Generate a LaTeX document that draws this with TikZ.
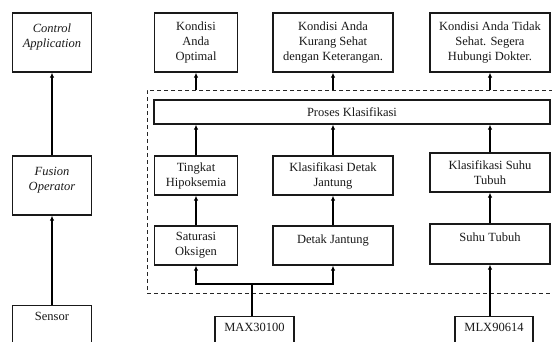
\documentclass[tikz,border=0pt]{standalone}
\usepackage{fontspec}
\setmainfont{Liberation Serif}
\usetikzlibrary{arrows.meta}
\begin{document}
\begin{tikzpicture}[x=1pt,y=-1pt,
  box/.style={draw=black!90, line width=1.3pt, align=center, inner sep=2pt,
    font=\fontsize{12.5}{15}\selectfont, text=black!90},
  ital/.style={font=\fontsize{12.5}{15}\selectfont\itshape},
  arr/.style={draw=black, line width=1.9pt, -{Latex[length=5pt,width=4.5pt]}},
  plain/.style={draw=black, line width=1.9pt},
  up/.style={text depth=13pt},
  cut/.style={anchor=north, minimum height=60pt, inner sep=0pt, text height=15pt, text depth=45pt},
  dashbox/.style={draw=black!85, dash pattern=on 4pt off 3pt, line width=0.9pt, inner sep=0pt}]
\useasboundingbox (0,0) rectangle (552,341);
\fill[white] (0,0) rectangle (552,341);

% left column
\node[box, ital, up, minimum width=79pt, minimum height=59pt] (ctrl) at (52,42.5) {Control\\Application};
\node[box, ital, up, minimum width=79pt, minimum height=59pt] (fusion) at (52,185.5) {Fusion\\Operator};
\node[box, cut, minimum width=79pt] (sensor) at (52,305) {Sensor};

% outputs
\node[box, minimum width=83pt, minimum height=59pt] (opt) at (196,42.5) {Kondisi\\Anda\\Optimal};
\node[box, minimum width=120pt, minimum height=59pt] (kurang) at (333,42.5) {Kondisi Anda\\Kurang Sehat\\dengan Keterangan.};
\node[box, minimum width=120pt, minimum height=59pt] (tidak) at (490,42.5) {Kondisi Anda Tidak\\Sehat. Segera\\Hubungi Dokter.};

% dashed region
\node[dashbox, minimum width=413pt, minimum height=203pt] (dash) at (353.5,191.5) {};

\node[box, minimum width=396pt, minimum height=24pt] (proses) at (352,112) {Proses Klasifikasi};

\node[box, minimum width=83pt, minimum height=39pt] (hipo) at (196,175.5) {Tingkat\\Hipoksemia};
\node[box, minimum width=120pt, minimum height=39pt] (kdj) at (333,175.5) {Klasifikasi Detak\\Jantung};
\node[box, minimum width=120pt, minimum height=39pt] (ksuhu) at (490,172.5) {Klasifikasi Suhu\\Tubuh};

\node[box, minimum width=83pt, minimum height=39pt] (sat) at (196,245.5) {Saturasi\\Oksigen};
\node[box, up, minimum width=120pt, minimum height=39pt] (dj) at (333,245.5) {Detak Jantung};
\node[box, up, minimum width=120pt, minimum height=40pt] (suhu) at (490,244) {Suhu Tubuh};

% sensors
\node[box, cut, minimum width=79pt] (max) at (254.5,316) {MAX30100};
\node[box, cut, minimum width=78pt] (mlx) at (494,316) {MLX90614};

% connectors
\draw[arr] (fusion.north) -- (ctrl.south);
\draw[arr] (sensor.north) -- (fusion.south);

\draw[arr] (dash.north -| opt.south) -- (opt.south);
\draw[arr] (dash.north -| kurang.south) -- (kurang.south);
\draw[arr] (dash.north -| tidak.south) -- (tidak.south);

\draw[arr] (hipo.north) -- (hipo.north |- proses.south);
\draw[arr] (kdj.north) -- (kdj.north |- proses.south);
\draw[arr] (ksuhu.north) -- (ksuhu.north |- proses.south);

\draw[arr] (sat.north) -- (hipo.south);
\draw[arr] (dj.north) -- (kdj.south);
\draw[arr] (suhu.north) -- (ksuhu.south);

\coordinate (j) at (252,284);
\draw[plain] (j |- max.north) -- (j);
\draw[arr] (j) -| (sat.south);
\draw[arr] (j) -| (dj.south);
\draw[arr] (suhu.south |- mlx.north) -- (suhu.south);
\end{tikzpicture}
\end{document}
